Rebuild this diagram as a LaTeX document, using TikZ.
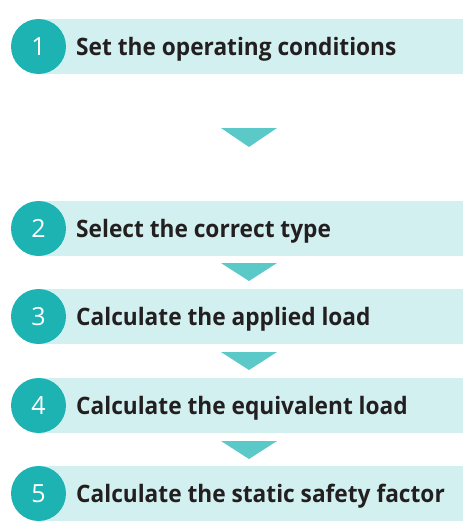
\documentclass[tikz,border=0pt]{standalone}
\usepackage{fontspec}
\setmainfont{Open Sans}
\newfontfamily\stepfont[FakeStretch=0.945]{Open Sans}
\definecolor{bandcol}{HTML}{D2F0F0}
\definecolor{circcol}{HTML}{1DB3B3}
\definecolor{arrcol}{HTML}{5CC9C9}
\definecolor{txtcol}{HTML}{231F20}
\tikzset{
  band/.style={fill=bandcol, draw=none, inner sep=0pt, minimum height=55pt, minimum width=425pt, anchor=north west},
  numcirc/.style={circle, fill=circcol, draw=none, inner sep=0pt, minimum size=55pt, text=white, font=\fontsize{25}{25}\selectfont},
  steptext/.style={anchor=base west, inner sep=0pt, text=txtcol, font=\stepfont\fontsize{24}{24}\selectfont\bfseries},
  arrowtri/.style={fill=arrcol, draw=none}
}
\begin{document}
\begin{tikzpicture}[x=1pt,y=-1pt]
\useasboundingbox (0,0) rectangle (468,525);
\foreach \i/\top/\txt in {1/19/Set the operating conditions,2/201/Select the correct type,3/289/Calculate the applied load,4/378/Calculate the equivalent load,5/466/Calculate the static safety factor}{
  \node[band] (b\i) at (38,\top) {};
  \node[numcirc] (c\i) at (38.5,\top+27.5) {\i};
  \node[steptext] (t\i) at (76,\top+36.5) {\txt};
}
\foreach \a/\b in {128/147,263/281,352/370,441/459}{
  \fill[arrowtri] (221,\a) -- (277,\a) -- (249,\b) -- cycle;
}
\end{tikzpicture}
\end{document}
